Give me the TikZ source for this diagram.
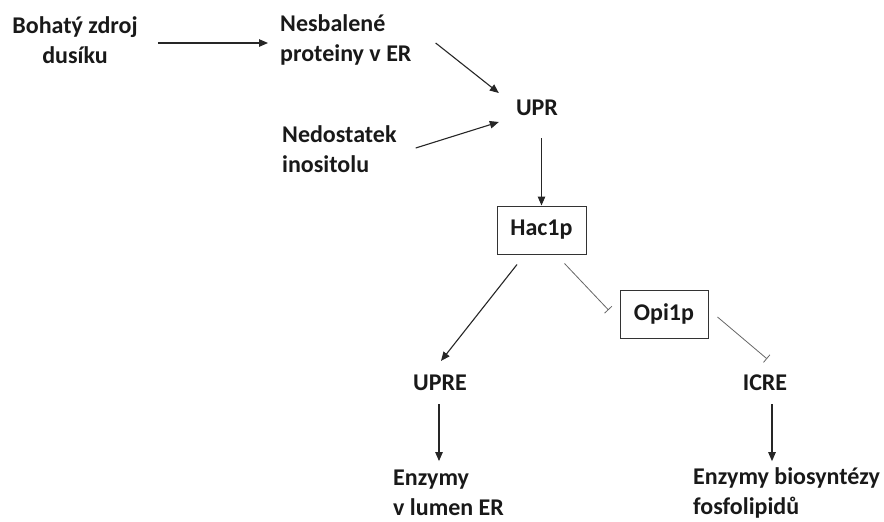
\documentclass[tikz,border=0pt]{standalone}
\usepackage{fontspec}
\setmainfont{Carlito}
\usetikzlibrary{arrows.meta,calc}
\begin{document}
\begin{tikzpicture}[x=1pt,y=-1pt,
  lbl/.style={font=\fontsize{24}{30}\selectfont\bfseries, inner sep=0pt, text=black!90},
  boxn/.style={lbl, draw=black!80, line width=1pt, minimum width=89pt, minimum height=48pt},
  arr/.style={-{Triangle[length=9pt,width=7.5pt]}, line width=1.1pt, black!85},
  inh/.style={-{Bar[width=10pt]}, line width=0.8pt, black!60}]
\useasboundingbox (0,0) rectangle (884,522);
\node[lbl, align=center] (n1) at (75,40) {Bohatý zdroj\\dusíku};
\node[lbl, align=left, anchor=west] (n2) at (280,40) {Nesbalené\\proteiny v ER};
\node[lbl, align=left, anchor=west] (n3) at (282,149) {Nedostatek\\inositolu};
\node[lbl] (upr) at (537,108) {UPR};
\node[boxn] (hac) at (541.5,230) {Hac1p};
\node[boxn, minimum width=88pt] (opi) at (664,314) {Opi1p};
\node[lbl] (upre) at (440,383) {UPRE};
\node[lbl] (icre) at (765,383) {ICRE};
\node[lbl, align=left, anchor=west] (e1) at (393,493) {Enzymy\\v lumen ER};
\node[lbl, align=left, anchor=west] (e2) at (693,493) {Enzymy biosyntézy\\fosfolipidů};

\draw[arr] ([shift={(20,3)}]n1.east) -- ([shift={(-12,3)}]n1.east -| n2.west);
\draw[arr] ([shift={(24,3)}]n2.east) -- ([shift={(-17,-15)}]upr.west);
\draw[arr] ([shift={(19,-1)}]n3.east) -- ([shift={(-17,14)}]upr.west);
\draw[arr] ([yshift=-22pt]hac.north |- upr.south) -- (hac.north);
\draw[arr] ([shift={(-24.5,10)}]hac.south) -- ([shift={(1,-14)}]upre.north);
\draw[inh] ([shift={(-22,9)}]hac.south east) -- ([shift={(-11,-4)}]opi.west);
\draw[inh] ([shift={(9,3)}]opi.east) -- ([shift={(2,-16)}]icre.north);
\draw[arr] ([shift={(-1,13)}]upre.south) -- ([shift={(-1,70)}]upre.south);
\draw[arr] ([shift={(7,13)}]icre.south) -- ([shift={(7,70)}]icre.south);
\end{tikzpicture}
\end{document}
